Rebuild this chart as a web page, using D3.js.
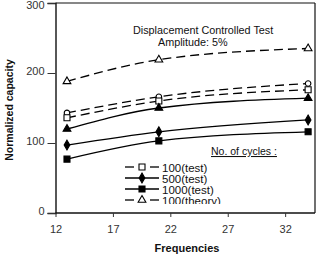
<!DOCTYPE html>
<html><head><meta charset="utf-8">
<script src="https://cdn.jsdelivr.net/npm/d3@7"></script>
<style>html,body{margin:0;padding:0;background:#fff;}svg{display:block;font-family:Arial,"Liberation Sans",sans-serif;}</style>
</head><body>
<script>
const freqs = [13, 21, 34];
const xTicks = [12, 17, 22, 27, 32];
const yTicks = [0, 100, 200, 300];
const theory100 = [188, 219, 235];
const dashCircle = [143, 166, 185];
const test100 = [136, 160, 176];
const solidTri = [120, 150, 164];
const test500 = [97, 116, 133];
const test1000 = [77, 103, 116];
const titleLines = ["Displacement Controlled Test", "Amplitude: 5%"];
const legendTitle = "No. of cycles :";
const legendLabels = ["100(test)", "500(test)", "1000(test)", "100(theory)"];

const W = 322, H = 254;
const svg = d3.select("body").append("svg").attr("width", W).attr("height", H);
svg.append("rect").attr("width", W).attr("height", H).attr("fill", "#fff");

const x = d3.scaleLinear().domain([12, 34.6]).range([55.5, 315]);
const y = d3.scaleLinear().domain([0, 300]).range([213, 3]);

// frame
svg.append("line").attr("x1", x(12)).attr("x2", 315).attr("y1", 3).attr("y2", 3).attr("stroke", "#111").attr("stroke-width", 1.2);
svg.append("line").attr("x1", 315).attr("x2", 315).attr("y1", 3).attr("y2", 213).attr("stroke", "#111").attr("stroke-width", 1.2);

const yAxis = svg.append("g").attr("transform", `translate(${x(12)},0)`)
  .call(d3.axisLeft(y).tickValues(yTicks).tickSize(8).tickPadding(3));
yAxis.select(".domain").attr("stroke", "#111").attr("stroke-width", 1.4);
yAxis.selectAll(".tick line").attr("stroke", "#333");
yAxis.selectAll(".tick text").attr("font-size", 11).attr("fill", "#333").attr("font-family", "Arial, 'Liberation Sans', sans-serif").attr("dy", "0.1em")
  .attr("y", d => d === 300 ? 4 : 0);

const xAxis = svg.append("g").attr("transform", `translate(0,${y(0)})`)
  .call(d3.axisBottom(x).tickValues(xTicks).tickSize(4).tickPadding(8));
xAxis.select(".domain").attr("stroke", "#111").attr("stroke-width", 1.4).attr("d", `M${x(12)},0H315`);
xAxis.selectAll(".tick line").attr("stroke", "#333");
xAxis.selectAll(".tick text").attr("font-size", 11).attr("fill", "#333").attr("font-family", "Arial, 'Liberation Sans', sans-serif");

// axis titles
svg.append("text").attr("x", 187).attr("y", 252).attr("text-anchor", "middle")
  .attr("font-size", 11).attr("font-weight", "bold").attr("fill", "#111").text("Frequencies");
svg.append("text").attr("transform", "translate(13,110) rotate(-90)").attr("text-anchor", "middle")
  .attr("font-size", 10.5).attr("font-weight", "bold").attr("fill", "#111").text("Normalized capacity");

// chart title
svg.append("text").attr("x", 133).attr("y", 34).attr("font-size", 10.8).attr("fill", "#111").text(titleLines[0]);
svg.append("text").attr("x", 158).attr("y", 46).attr("font-size", 10.8).attr("fill", "#111").text(titleLines[1]);

const series = [
  {vals: theory100, dash: "9,5", marker: "triangle", fill: "#fff"},
  {vals: dashCircle, dash: "9,5", marker: "circle", fill: "#fff"},
  {vals: test100, dash: "9,5", marker: "square", fill: "#fff"},
  {vals: solidTri, dash: null, marker: "triangle", fill: "#000"},
  {vals: test500, dash: null, marker: "diamond", fill: "#000"},
  {vals: test1000, dash: null, marker: "square", fill: "#000"}
];
const symType = {triangle: d3.symbolTriangle, circle: d3.symbolCircle, square: d3.symbolSquare, diamond: d3.symbolDiamond};
const symSize = {triangle: 26, circle: 24, square: 36, diamond: 28};

const line = d3.line().x((d, i) => x(freqs[i])).y(d => y(d)).curve(d3.curveMonotoneX);
function drawMarker(g, type, fill, cx, cy) {
  g.append("path").attr("d", d3.symbol().type(symType[type]).size(symSize[type])())
    .attr("transform", `translate(${cx},${cy})`).attr("fill", fill).attr("stroke", "#000").attr("stroke-width", 1.1);
}
series.forEach(s => {
  svg.append("path").datum(s.vals).attr("d", line).attr("fill", "none").attr("stroke", "#000")
    .attr("stroke-width", 1.3).attr("stroke-dasharray", s.dash);
  s.vals.forEach((v, i) => drawMarker(svg, s.marker, s.fill, x(freqs[i]), y(v)));
});

// legend
svg.append("text").attr("x", 211).attr("y", 155).attr("font-size", 10.5).attr("fill", "#111")
  .attr("text-decoration", "underline").text(legendTitle);
const leg = [
  {dash: true, marker: "square", fill: "#fff"},
  {dash: false, marker: "diamond", fill: "#000"},
  {dash: false, marker: "square", fill: "#000"},
  {dash: true, marker: "triangle", fill: "#fff"}
];
svg.append("clipPath").attr("id", "legclip").append("rect").attr("x", 100).attr("y", 150).attr("width", 200).attr("height", 54);
const lg = svg.append("g").attr("clip-path", "url(#legclip)");
leg.forEach((l, i) => {
  const cy = 167 + i * 11;
  if (l.dash) {
    lg.append("line").attr("x1", 125).attr("x2", 134).attr("y1", cy).attr("y2", cy).attr("stroke", "#000").attr("stroke-width", 1.3);
    lg.append("line").attr("x1", 150).attr("x2", 159).attr("y1", cy).attr("y2", cy).attr("stroke", "#000").attr("stroke-width", 1.3);
  } else {
    lg.append("line").attr("x1", 125).attr("x2", 159).attr("y1", cy).attr("y2", cy).attr("stroke", "#000").attr("stroke-width", 1.3);
  }
  drawMarker(lg, l.marker, l.fill, 142, cy);
  lg.append("text").attr("x", 162).attr("y", cy + 4.5).attr("font-size", 11.5).attr("fill", "#111").text(legendLabels[i]);
});
</script>
</body></html>
